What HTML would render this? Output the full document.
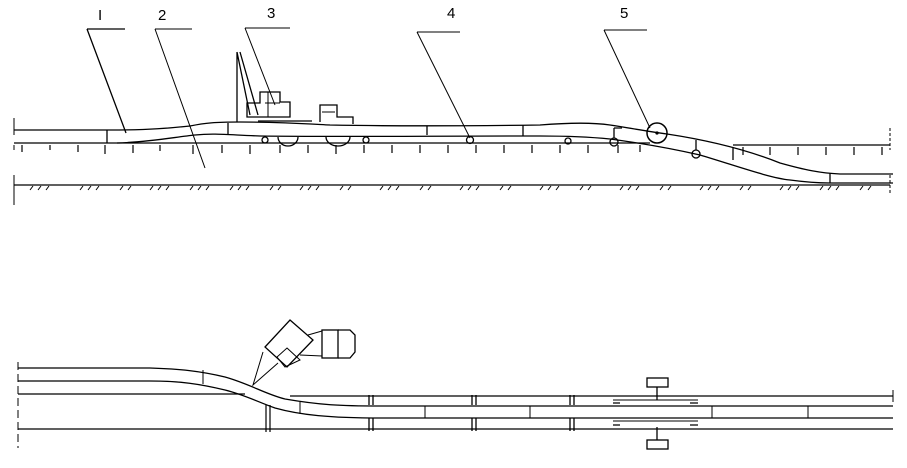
<!DOCTYPE html>
<html><head><meta charset="utf-8"><style>html,body{margin:0;padding:0;background:#fff}svg{display:block}</style></head>
<body>
<svg width="907" height="468" viewBox="0 0 907 468" xmlns="http://www.w3.org/2000/svg" fill="none" stroke="#000" stroke-width="1.3" font-family="Liberation Sans, sans-serif">
<!-- labels -->
<g fill="#000" stroke="none" font-size="15">
<text x="98" y="20">I</text>
<text x="158" y="20">2</text>
<text x="267" y="18">3</text>
<text x="447" y="18">4</text>
<text x="620" y="18">5</text>
</g>
<!-- leaders -->
<path d="M87 29H125M87 29L126 133"/>
<path d="M155 29H192M155 29L205 168" stroke-width="1"/>
<path d="M245 28H290M245 28L275 105" stroke-width="1"/>
<path d="M417 32H460M417 32L470 138" stroke-width="1"/>
<path d="M604 30H647M604 30L650 128" stroke-width="1"/>

<!-- top figure: borders -->
<path d="M14 118V135M14 145V150M14 175V205" stroke-width="1"/>
<path d="M890 128V150M890 175V195" stroke-width="1" stroke-dasharray="3 2"/>
<!-- ground lines -->
<path d="M14 143H650M733 145H890"/>
<path d="M14 185H890"/>
<!-- hatch -->
<g stroke-width="1">
<path d="M30 190l3-4M38 190l3-4M46 190l3-4M80 190l3-4M88 190l3-4M96 190l3-4M120 190l3-4M128 190l3-4M150 190l3-4M158 190l3-4M166 190l3-4M190 190l3-4M198 190l3-4M206 190l3-4M230 190l3-4M238 190l3-4M246 190l3-4M270 190l3-4M278 190l3-4M300 190l3-4M308 190l3-4M316 190l3-4M340 190l3-4M348 190l3-4M380 190l3-4M388 190l3-4M396 190l3-4M420 190l3-4M428 190l3-4M460 190l3-4M468 190l3-4M476 190l3-4M500 190l3-4M508 190l3-4M540 190l3-4M548 190l3-4M556 190l3-4M580 190l3-4M588 190l3-4M620 190l3-4M628 190l3-4M636 190l3-4M660 190l3-4M668 190l3-4M700 190l3-4M708 190l3-4M716 190l3-4M740 190l3-4M748 190l3-4M780 190l3-4M788 190l3-4M796 190l3-4M820 190l3-4M828 190l3-4M836 190l3-4M860 190l3-4M868 190l3-4"/>
</g>
<!-- ticks -->
<g stroke-width="1.2">
<path d="M22 145v7M50 145v5M78 145v7M105 145v9M133 145v8M160 145v6M193 145v9M222 145v8M250 145v9M280 145v8M308 145v8M336 145v9M364 145v8M392 145v8M420 145v8M448 145v8M476 145v8M504 145v8M532 145v8M560 145v8M588 145v8M618 145v8M640 145v7M743 147v8M770 147v8M798 147v8M826 147v8M854 147v8M882 147v8"/>
</g>
<!-- pipe top view -->
<path d="M14 130H110C150 130 170 128 190 126C205 123 215 122 240 122C280 122 310 124 330 125C380 126 460 126 540 125C565 123 590 122 610 125C630 128 645 131 667 134C700 139 740 147 780 163C805 170 820 173 840 174H893"/>
<path d="M117 143C150 142 175 137 195 135C215 133 230 135 260 136C330 137 430 136 540 136C570 136 590 137 610 139C640 143 665 147 700 155C740 167 770 178 790 180C805 182 815 183 830 183H893"/>
<!-- pipe joints -->
<path d="M107 130V143M228 123V135M427 126V135M523 125V136M733 147V160M830 173V183"/>
<!-- crane -->
<path d="M237 52V122M237 52L250 115M240 52L258 115"/>
<path d="M247 117V103H260V92H280V102H290V117H247Z"/>
<path d="M268 92V117M265 103H280" stroke-width="1"/>
<path d="M258 121H312"/>
<!-- truck -->
<path d="M320 122V105H337V117H353V124"/>
<path d="M322 112H335" stroke-width="1"/>
<path d="M278 137A10 9 0 0 0 298 137M326 137A12 9 0 0 0 350 137"/>
<!-- small rollers -->
<circle cx="265" cy="140" r="3"/>
<circle cx="366" cy="140" r="3"/>
<circle cx="470" cy="140" r="3.5"/>
<circle cx="568" cy="141" r="3"/>
<path d="M614 128V138M614 128H622"/>
<circle cx="614" cy="142" r="4"/>
<path d="M696 140V150"/>
<circle cx="696" cy="154" r="4"/>
<circle cx="657" cy="133" r="10" stroke-width="1.5"/>
<circle cx="657" cy="133" r="1" fill="#000"/>

<!-- bottom figure -->
<path d="M18 362V448" stroke-width="1" stroke-dasharray="8 4"/>
<path d="M893 390V402" stroke-width="1"/>
<path d="M18 368H150C180 369 200 371 225 377C250 384 265 394 285 399C320 405 340 406 380 406H893"/>
<path d="M18 381H150C180 381 200 384 225 390C245 395 258 402 275 408C300 415 330 418 380 418H893"/>
<path d="M18 394H245M290 396H893"/>
<path d="M18 429H893"/>
<!-- pipe joints bottom -->
<path d="M203 370V384M300 402V414M425 406V418M530 406V418M712 406V418M808 406V418" stroke-width="1"/>
<!-- ties -->
<path d="M266 405V432M270 405V432" stroke-width="1.2"/>
<path d="M369 395V405M373 395V405M369 418V431M373 418V431"/>
<path d="M472 395V405M476 395V405M472 418V431M476 418V431"/>
<path d="M570 395V405M574 395V405M570 418V431M574 418V431"/>
<!-- carriage -->
<rect x="647" y="378" width="21" height="9"/>
<rect x="647" y="440" width="21" height="9"/>
<path d="M657 387V400M657 427V440"/>
<path d="M613 400H698M613 421H698" stroke-width="1"/>
<path d="M613 403H620M690 403H698M613 425H620M690 425H698" stroke-width="1.3"/>
<!-- excavator plan -->
<path d="M290 320L313 340L287 367L265 347Z"/>
<path d="M287 348L300 360L285 367L277 357Z" stroke-width="1"/>
<path d="M263 352L253 385L278 363" stroke-width="1"/>
<path d="M308 335L322 331M300 355L322 356" stroke-width="1"/>
<rect x="322" y="330" width="16" height="28"/>
<path d="M338 330H350L355 335V352L350 358H338"/>
</svg>
</body></html>
